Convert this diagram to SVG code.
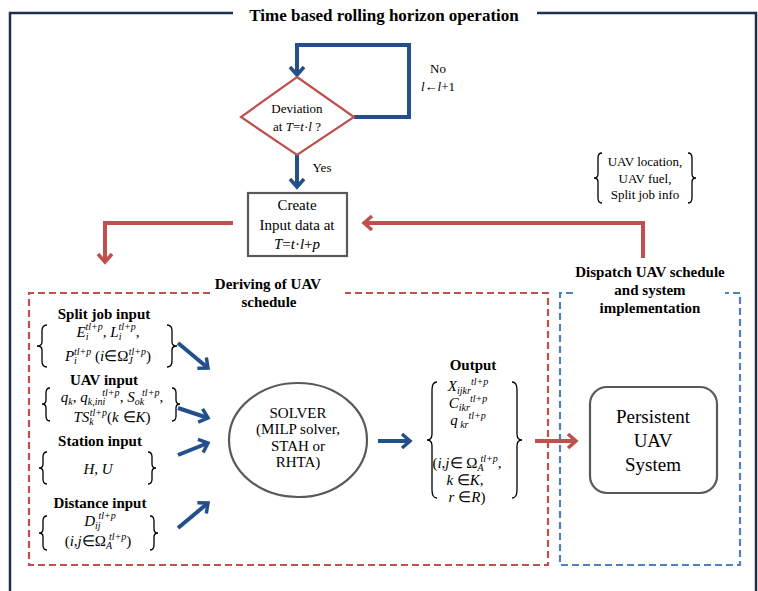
<svg xmlns="http://www.w3.org/2000/svg" width="758" height="591" viewBox="0 0 758 591">
<defs>
<style>
text{font-family:"Liberation Serif","Times New Roman",serif;fill:#000}
.b{font-weight:bold;font-size:15px}
.m{font-size:15px}
.i{font-style:italic}
.s{font-size:10px}
.sm{font-size:13px}
.big{font-size:19px}
.br{fill:none;stroke:#000;stroke-width:1.3}
.blue{fill:none;stroke:#23508a;stroke-width:4}
.red{fill:none;stroke:#c0504d;stroke-width:4}
</style>
<marker id="ab" markerUnits="userSpaceOnUse" viewBox="-12 -10 16 20" markerWidth="16" markerHeight="20" refX="0" refY="0" orient="auto">
<path d="M-8,-7 L0,0 L-8,7" fill="none" stroke="#23508a" stroke-width="3.5"/>
</marker>
<marker id="ar" markerUnits="userSpaceOnUse" viewBox="-12 -10 16 20" markerWidth="16" markerHeight="20" refX="0" refY="0" orient="auto">
<path d="M-8,-7 L0,0 L-8,7" fill="none" stroke="#c0504d" stroke-width="3.5"/>
</marker>
</defs>
<rect width="758" height="591" fill="#fff"/>

<g id="frame">
<path d="M233,13 H10 V591 M537,13 H756 V591" fill="none" stroke="#1f2f4f" stroke-width="2.5"/>
<text x="384" y="21" text-anchor="middle" style="font-weight:bold;font-size:17px">Time based rolling horizon operation</text>
</g>

<g id="deriving">
<path d="M210,293 H29 V565 H548 V293 H345" fill="none" stroke="#c0504d" stroke-width="2.2" stroke-dasharray="7 4"/>
<text x="268" y="289" text-anchor="middle" class="b">Deriving of UAV</text>
<text x="269" y="307" text-anchor="middle" class="b">schedule</text>
</g>

<g id="dispatch">
<path d="M573,293 H560 V565 H740 V293 H725" fill="none" stroke="#4f81bd" stroke-width="2.2" stroke-dasharray="7 4"/>
<text x="650" y="277" text-anchor="middle" class="b">Dispatch UAV schedule</text>
<text x="650" y="295" text-anchor="middle" class="b">and system</text>
<text x="650" y="313" text-anchor="middle" class="b">implementation</text>
</g>

<g id="connectors">
<path class="blue" d="M354,117 H409 V45 H297 V75" marker-end="url(#ab)"/>
<path class="blue" d="M297,155 V187" marker-end="url(#ab)"/>
<path class="red" d="M233,223 H105 V262" marker-end="url(#ar)"/>
<path class="red" d="M643,258 V223 H364" marker-end="url(#ar)"/>
<path class="blue" d="M178,343 L208,368" marker-end="url(#ab)"/>
<path class="blue" d="M178,408 L208,418" marker-end="url(#ab)"/>
<path class="blue" d="M178,455 L208,443" marker-end="url(#ab)"/>
<path class="blue" d="M178,528 L208,503" marker-end="url(#ab)"/>
<path class="blue" d="M378,441 H410" marker-end="url(#ab)"/>
<path class="red" d="M535,441 H576" marker-end="url(#ar)"/>
</g>

<g id="decision">
<polygon points="297,77 354,117 297,155 241,117" fill="#fff" stroke="#c0504d" stroke-width="2.2"/>
<text x="297" y="113" text-anchor="middle" class="sm">Deviation</text>
<text x="297" y="131" text-anchor="middle" class="sm">at <tspan class="i">T</tspan>=<tspan class="i">t</tspan>·<tspan class="i">l</tspan> ?</text>
<text x="322" y="172" text-anchor="middle" class="sm">Yes</text>
<text x="438" y="73" text-anchor="middle" class="sm">No</text>
<text x="438" y="91" text-anchor="middle" class="sm"><tspan class="i">l</tspan>←<tspan class="i">l</tspan>+1</text>
</g>

<g id="create">
<rect x="248" y="193" width="99" height="63" fill="#fff" stroke="#595959" stroke-width="2.2"/>
<text x="297" y="210" text-anchor="middle" class="m">Create</text>
<text x="297" y="230" text-anchor="middle" class="m">Input data at</text>
<text x="297" y="249" text-anchor="middle" class="m"><tspan class="i">T</tspan>=<tspan class="i">t</tspan>·<tspan class="i">l</tspan>+<tspan class="i">p</tspan></text>
</g>

<g id="feedback-info">
<path class="br" d="M602,153 Q598,153 598,158 L598,174 Q598,178 594,178 Q598,178 598,182 L598,198 Q598,203 602,203"/>
<path class="br" d="M688,153 Q692,153 692,158 L692,174 Q692,178 696,178 Q692,178 692,182 L692,198 Q692,203 688,203"/>
<text x="645" y="166" text-anchor="middle" class="sm">UAV location,</text>
<text x="645" y="183" text-anchor="middle" class="sm">UAV fuel,</text>
<text x="645" y="199" text-anchor="middle" class="sm">Split job info</text>
</g>

<g id="split-job-input">
<text x="104" y="319" text-anchor="middle" class="b">Split job input</text>
<path class="br" d="M47,325 Q42,325 42,331 L42,342 Q42,346 37,346 Q42,346 42,350 L42,361 Q42,367 47,367"/>
<path class="br" d="M167,325 Q172,325 172,331 L172,342 Q172,346 177,346 Q172,346 172,350 L172,361 Q172,367 167,367"/>
<text x="108" y="337" text-anchor="middle" class="m"><tspan class="i">E</tspan><tspan class="s i" dy="3">i</tspan><tspan class="s i" dx="-3" dy="-10">tl+p</tspan><tspan dy="7">, </tspan><tspan class="i">L</tspan><tspan class="s i" dy="3">i</tspan><tspan class="s i" dx="-3" dy="-10">tl+p</tspan><tspan dy="7">,</tspan></text>
<text x="108" y="361" text-anchor="middle" class="m"><tspan class="i">P</tspan><tspan class="s i" dy="3">i</tspan><tspan class="s i" dx="-3" dy="-9">tl+p</tspan><tspan dy="6">  (</tspan><tspan class="i">i</tspan>∈Ω<tspan class="s i" dy="3">J</tspan><tspan class="s i" dx="-4" dy="-9">tl+p</tspan><tspan dy="6">)</tspan></text>
</g>

<g id="uav-input">
<text x="104" y="385" text-anchor="middle" class="b">UAV input</text>
<path class="br" d="M50,388 Q46,388 46,393 L46,400 Q46,404 42,404 Q46,404 46,408 L46,416 Q46,421 50,421"/>
<path class="br" d="M172,388 Q176,388 176,393 L176,400 Q176,404 180,404 Q176,404 176,408 L176,416 Q176,421 172,421"/>
<text x="112" y="402" text-anchor="middle" class="m"><tspan class="i">q</tspan><tspan class="s i" dy="3">k</tspan><tspan dy="-3">, </tspan><tspan class="i">q</tspan><tspan class="s i" dy="3">k,ini</tspan><tspan class="s i" dx="-3" dy="-9">tl+p</tspan><tspan dy="6">, </tspan><tspan class="i">S</tspan><tspan class="s i" dy="3">ok</tspan><tspan class="s i" dx="-2" dy="-9">tl+p</tspan><tspan dy="6">,</tspan></text>
<text x="112" y="422" text-anchor="middle" class="m"><tspan class="i">TS</tspan><tspan class="s i" dy="3">k</tspan><tspan class="s i" dx="-4" dy="-9">tl+p</tspan><tspan dy="6">(</tspan><tspan class="i">k</tspan> ∈<tspan class="i">K</tspan>)</text>
</g>

<g id="station-input">
<text x="100" y="446" text-anchor="middle" class="b">Station input</text>
<path class="br" d="M47,452 Q43,452 43,457 L43,464 Q43,468 39,468 Q43,468 43,472 L43,479 Q43,484 47,484"/>
<path class="br" d="M148,452 Q152,452 152,457 L152,464 Q152,468 156,468 Q152,468 152,472 L152,479 Q152,484 148,484"/>
<text x="98" y="474" text-anchor="middle" class="m i">H, U</text>
</g>

<g id="distance-input">
<text x="100" y="508" text-anchor="middle" class="b">Distance input</text>
<path class="br" d="M47,516 Q43,516 43,521 L43,529 Q43,533 39,533 Q43,533 43,537 L43,545 Q43,550 47,550"/>
<path class="br" d="M150,516 Q154,516 154,521 L154,529 Q154,533 158,533 Q154,533 154,537 L154,545 Q154,550 150,550"/>
<text x="100" y="526" text-anchor="middle" class="m"><tspan class="i">D</tspan><tspan class="s i" dy="3">ij</tspan><tspan class="s i" dx="-2" dy="-10">tl+p</tspan></text>
<text x="98" y="546" text-anchor="middle" class="m">(<tspan class="i">i</tspan>,<tspan class="i">j</tspan>∈Ω<tspan class="s i" dy="3">A</tspan><tspan class="s i" dx="-3" dy="-9">tl+p</tspan><tspan dy="6">)</tspan></text>
</g>

<g id="solver">
<ellipse cx="298" cy="440" rx="69" ry="57" fill="#fff" stroke="#595959" stroke-width="2.2"/>
<text x="298" y="418" text-anchor="middle" class="m">SOLVER</text>
<text x="298" y="434" text-anchor="middle" class="m">(MILP solver,</text>
<text x="298" y="451" text-anchor="middle" class="m">STAH or</text>
<text x="298" y="467" text-anchor="middle" class="m">RHTA)</text>
</g>

<g id="output">
<text x="473" y="370" text-anchor="middle" class="b">Output</text>
<path class="br" d="M437,382 Q432,382 432,390 L432,434 Q432,440 427,440 Q432,440 432,446 L432,490 Q432,498 437,498"/>
<path class="br" d="M512,382 Q517,382 517,390 L517,434 Q517,440 522,440 Q517,440 517,446 L517,490 Q517,498 512,498"/>
<text x="468" y="391" text-anchor="middle" class="m"><tspan class="i">X</tspan><tspan class="s i" dy="3">ijkr</tspan><tspan class="s i" dy="-9">tl+p</tspan></text>
<text x="468" y="408" text-anchor="middle" class="m"><tspan class="i">C</tspan><tspan class="s i" dy="3">ikr</tspan><tspan class="s i" dy="-9">tl+p</tspan></text>
<text x="468" y="425" text-anchor="middle" class="m"><tspan class="i">q</tspan><tspan class="s i" dy="3"> kr</tspan><tspan class="s i" dy="-9">tl+p</tspan></text>
<text x="467" y="468" text-anchor="middle" class="m">(<tspan class="i">i</tspan>,<tspan class="i">j</tspan>∈ Ω<tspan class="s i" dy="3">A</tspan><tspan class="s i" dx="-3" dy="-9">tl+p</tspan><tspan dy="6">,</tspan></text>
<text x="465" y="485" text-anchor="middle" class="m"><tspan class="i">k</tspan> ∈<tspan class="i">K</tspan>,</text>
<text x="467" y="502" text-anchor="middle" class="m"><tspan class="i">r</tspan> ∈<tspan class="i">R</tspan>)</text>
</g>

<g id="persistent-uav-system">
<rect x="590" y="387" width="127" height="106" rx="17" fill="#fff" stroke="#595959" stroke-width="2.2"/>
<text x="653" y="423" text-anchor="middle" class="big">Persistent</text>
<text x="653" y="447" text-anchor="middle" class="big">UAV</text>
<text x="653" y="471" text-anchor="middle" class="big">System</text>
</g>
</svg>
